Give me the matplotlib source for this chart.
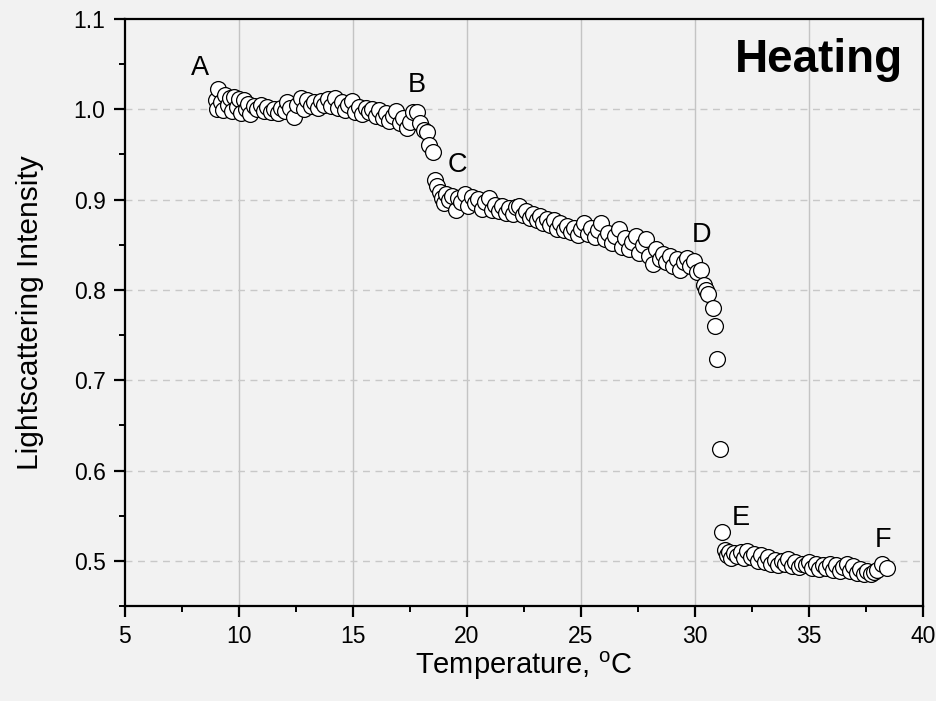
#! /usr/bin/env python3

import matplotlib
matplotlib.use("Agg")
import matplotlib.pyplot as plt
from matplotlib.ticker import MultipleLocator

plt.rcParams['font.family'] = ['Liberation Sans', 'DejaVu Sans']
plt.rcParams['mathtext.fontset'] = 'custom'
plt.rcParams['mathtext.rm'] = 'Liberation Sans'

# heating run
temp_ab = [9.00, 9.05, 9.10, 9.20, 9.30, 9.40, 9.50, 9.60, 9.70, 9.80, 9.90,
           10.00, 10.10, 10.20, 10.30, 10.40, 10.50, 10.65, 10.80, 10.95, 11.10,
           11.25, 11.40, 11.55, 11.70, 11.85, 12.00, 12.10, 12.25, 12.40, 12.55,
           12.70, 12.85, 13.00, 13.15, 13.30, 13.45, 13.60, 13.75, 13.90, 14.05,
           14.20, 14.35, 14.50, 14.65, 14.80, 14.95, 15.10, 15.25, 15.40, 15.55,
           15.70, 15.85, 16.00, 16.15, 16.30, 16.45, 16.60, 16.75, 16.90, 17.05,
           17.20, 17.35, 17.50, 17.65, 17.80, 17.95, 18.10, 18.25, 18.35, 18.50]
int_ab = [1.010, 1.000, 1.022, 1.008, 0.999, 1.016, 1.005, 1.012, 0.998, 1.014, 1.003,
          1.011, 0.996, 1.010, 1.000, 1.006, 0.995, 1.004, 1.000, 1.005, 0.998,
          1.003, 0.997, 1.000, 0.996, 1.002, 0.998, 1.008, 1.001, 0.991, 1.005,
          1.012, 1.000, 1.010, 1.004, 1.008, 1.002, 1.009, 1.005, 1.011, 1.004,
          1.012, 1.002, 1.008, 0.999, 1.005, 1.009, 0.997, 1.003, 0.995, 1.002,
          0.997, 1.000, 0.993, 0.999, 0.990, 0.996, 0.987, 0.993, 0.998, 0.985,
          0.990, 0.979, 0.986, 0.997, 0.997, 0.985, 0.977, 0.975, 0.960, 0.953]

temp_cd = [18.60, 18.70, 18.80, 18.90, 19.00, 19.10, 19.20, 19.35, 19.50, 19.60, 19.75,
           19.90, 20.05, 20.20, 20.35, 20.50, 20.65, 20.80, 20.95, 21.10, 21.25,
           21.40, 21.55, 21.70, 21.85, 22.00, 22.15, 22.30, 22.45, 22.60, 22.75,
           22.90, 23.05, 23.20, 23.35, 23.50, 23.65, 23.80, 23.95, 24.10, 24.25,
           24.40, 24.55, 24.70, 24.85, 25.00, 25.15, 25.30, 25.45, 25.60, 25.75,
           25.90, 26.05, 26.20, 26.35, 26.50, 26.65, 26.80, 26.95, 27.10, 27.25,
           27.40, 27.55, 27.70, 27.85, 28.00, 28.15, 28.30, 28.45, 28.60, 28.75,
           28.90, 29.05, 29.20, 29.35, 29.50, 29.65, 29.80, 29.95, 30.10, 30.25,
           30.40, 30.50, 30.58]
int_cd = [0.922, 0.915, 0.908, 0.902, 0.896, 0.906, 0.900, 0.904, 0.889, 0.902, 0.897,
          0.906, 0.893, 0.903, 0.896, 0.901, 0.890, 0.897, 0.902, 0.888, 0.894,
          0.887, 0.893, 0.885, 0.891, 0.884, 0.892, 0.893, 0.883, 0.887, 0.880,
          0.884, 0.877, 0.882, 0.874, 0.879, 0.872, 0.877, 0.868, 0.874, 0.866,
          0.871, 0.864, 0.869, 0.861, 0.867, 0.874, 0.862, 0.869, 0.859, 0.866,
          0.874, 0.856, 0.863, 0.852, 0.860, 0.868, 0.848, 0.858, 0.845, 0.853,
          0.860, 0.841, 0.850, 0.856, 0.838, 0.829, 0.845, 0.834, 0.840, 0.831,
          0.838, 0.827, 0.834, 0.822, 0.831, 0.835, 0.826, 0.832, 0.820, 0.822,
          0.806, 0.800, 0.796]

temp_de = [30.78, 30.88, 30.98, 31.08, 31.20]
int_de = [0.780, 0.760, 0.724, 0.624, 0.532]

temp_ef = [31.30, 31.40, 31.50, 31.60, 31.70, 31.85, 32.00, 32.15, 32.30, 32.45,
           32.60, 32.75, 32.90, 33.05, 33.20, 33.35, 33.50, 33.65, 33.80, 33.95,
           34.10, 34.25, 34.40, 34.55, 34.70, 34.85, 35.00, 35.15, 35.30, 35.45,
           35.60, 35.75, 35.90, 36.05, 36.20, 36.35, 36.50, 36.65, 36.80, 36.95,
           37.10, 37.25, 37.40, 37.55, 37.70, 37.85, 38.00, 38.20, 38.40]
int_ef = [0.512, 0.506, 0.510, 0.503, 0.509, 0.505, 0.510, 0.503, 0.511, 0.504,
          0.508, 0.500, 0.506, 0.499, 0.504, 0.496, 0.501, 0.495, 0.500, 0.496,
          0.502, 0.494, 0.499, 0.493, 0.497, 0.495, 0.499, 0.492, 0.497, 0.491,
          0.495, 0.492, 0.497, 0.490, 0.495, 0.489, 0.493, 0.496, 0.489, 0.494,
          0.487, 0.491, 0.485, 0.489, 0.486, 0.488, 0.490, 0.497, 0.492]

point_names = ['A', 'B', 'C', 'D', 'E', 'F']
point_x = [8.3, 17.8, 19.6, 30.3, 32.0, 38.25]
point_y = [1.046, 1.027, 0.938, 0.861, 0.547, 0.523]

temps = temp_ab + temp_cd + temp_de + temp_ef
intens = int_ab + int_cd + int_de + int_ef

bg = '#f2f2f2'
fig = plt.figure(figsize=(9.36, 7.01), dpi=100, facecolor=bg)
ax = fig.add_axes([0.1335, 0.1355, 0.8526, 0.8374])
ax.set_facecolor(bg)

# grid: solid verticals, dashed horizontals
for xv in [10, 15, 20, 25, 30, 35]:
    ax.axvline(xv, color='#c4c4c4', lw=1.0, zorder=0)
for yv in [0.5, 0.6, 0.7, 0.8, 0.9, 1.0]:
    ax.axhline(yv, color='#c8c8c8', lw=1.0, ls=(0, (5, 4)), zorder=0)

ax.scatter(temps, intens, s=130, facecolor='white', edgecolor='black',
           linewidths=0.9, zorder=3)

for name, x, y in zip(point_names, point_x, point_y):
    ax.text(x, y, name, fontsize=19.5, ha='center', va='center', zorder=4)

ax.text(0.975, 0.93, 'Heating', transform=ax.transAxes, fontsize=33,
        fontweight='bold', ha='right', va='center')

ax.set_xlim(5, 40)
ax.set_ylim(0.45, 1.1)
ax.xaxis.set_major_locator(MultipleLocator(5))
ax.xaxis.set_minor_locator(MultipleLocator(2.5))
ax.yaxis.set_major_locator(MultipleLocator(0.1))
ax.yaxis.set_minor_locator(MultipleLocator(0.05))
ax.set_yticks([0.5, 0.6, 0.7, 0.8, 0.9, 1.0, 1.1])
ax.set_yticklabels(['0.5', '0.6', '0.7', '0.8', '0.9', '1.0', '1.1'])

for s in ax.spines.values():
    s.set_linewidth(1.6)
ax.tick_params(which='major', direction='out', length=8, width=1.6,
               labelsize=16.5, pad=6)
ax.tick_params(which='minor', direction='out', length=4, width=1.4)
ax.tick_params(which='both', top=False, right=False)

ax.set_xlabel(r'Temperature, $^{\mathrm{o}}$C', fontsize=21, labelpad=0.5)
ax.set_ylabel('Lightscattering Intensity', fontsize=21.5, labelpad=21)

fig.savefig('out.png', dpi=100, facecolor=bg)
